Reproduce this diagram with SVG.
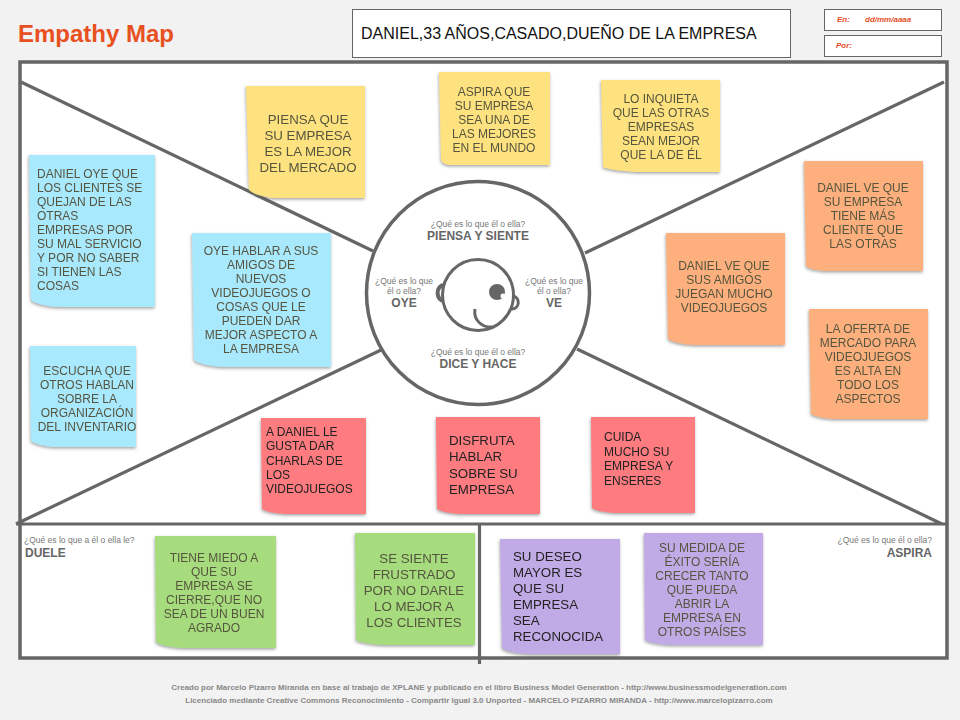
<svg xmlns="http://www.w3.org/2000/svg" width="960" height="720" viewBox="0 0 960 720">
<style>
text{font-family:"Liberation Sans",Arial,sans-serif}
.line{fill:none;stroke:#666;stroke-width:3.2}
.box{fill:#fff;stroke:#666;stroke-width:1}
.n{font-size:12px;fill:#55553f;text-anchor:middle}
.b{font-size:13.300px}
.d{fill:#222}
.l{text-anchor:start}
.q{font-size:8.500px;fill:#777;text-anchor:middle}
.h{font-size:12px;font-weight:bold;fill:#666;text-anchor:middle}
.y{fill:#fee27f}.c{fill:#a9e9fe}.o{fill:#fdb07d}.r{fill:#fe7b7f}.g{fill:#a6dc7d}.p{fill:#c0abe6}
.note{filter:url(#sh)}
.f{font-size:8px;font-weight:bold;fill:#888;text-anchor:middle}
.m{font-size:8px;font-style:italic;font-weight:bold;fill:#e8502a}
</style>
<defs><filter id="sh" x="-10%" y="-10%" width="120%" height="120%"><feDropShadow dx="-0.500" dy="1.500" stdDeviation="1.500" flood-color="#555" flood-opacity=".55"/></filter></defs>
<rect width="960" height="720" fill="#f2f2f2"/>
<text x="18" y="42" font-size="24" font-weight="bold" fill="#e8501f">Empathy Map</text>
<g id="persona"><rect class="box" x="352.500" y="9.500" width="438" height="48"/><text x="361" y="39" font-size="16" fill="#111">DANIEL,33 AÑOS,CASADO,DUEÑO DE LA EMPRESA</text></g>
<g id="fecha"><rect class="box" x="824.500" y="9.500" width="117" height="21"/><text class="m" x="837" y="22">En:</text><text class="m" x="865" y="22">dd/mm/aaaa</text></g>
<g id="autor"><rect class="box" x="824.500" y="35.500" width="117" height="21"/><text class="m" x="836" y="48">Por:</text></g>
<rect x="20" y="62" width="927" height="596" fill="#fff" stroke="#666" stroke-width="3.500"/>
<g id="connectors">
<path class="line" d="M21 82L373 251M944 82L585 253M16 524L381 350M942 524L577 349M16 524H946M479.500 524V664"/>
</g>
<g id="centro">
<circle cx="478" cy="293" r="111.500" fill="#fff" stroke="#666" stroke-width="3.500"/>
<text class="q" x="478" y="227">¿Qué es lo que él o ella?</text><text class="h" x="478" y="240">PIENSA Y SIENTE</text>
<text class="q" x="404" y="284">¿Qué es lo que</text><text class="q" x="404" y="294">él o ella?</text><text class="h" x="404" y="307">OYE</text>
<text class="q" x="554" y="284">¿Qué es lo que</text><text class="q" x="554" y="294">él o ella?</text><text class="h" x="554" y="307">VE</text>
<text class="q" x="478" y="355">¿Qué es lo que él o ella?</text><text class="h" x="478" y="368">DICE Y HACE</text>
<g id="cara" fill="none" stroke="#666" stroke-width="3">
<circle cx="478" cy="295" r="35.500"/>
<path d="M444 285a6 7.500 0 0 0 0 16" stroke-width="4"/>
<path d="M513 296a6 6.500 0 0 1 -1.500 13"/>
<path d="M475 309c-2 11 7 19 18 18"/>
<circle cx="497" cy="292" r="8" fill="#666" stroke="none"/>
<circle cx="503" cy="296" r="2.500" fill="#fff" stroke="none"/>
</g>
</g>
<g id="n1" class="note"><path class="y" d="M246 86H365V198H275Q255 196 249 190Z"/><text class="n b"><tspan x="308" y="124">PIENSA QUE</tspan><tspan x="308" y="140">SU EMPRESA</tspan><tspan x="308" y="156">ES LA MEJOR</tspan><tspan x="308" y="172">DEL MERCADO</tspan></text></g>
<g id="n2" class="note"><path class="y" d="M439 72H550V165H450Q441 164 441 159Z"/><text class="n"><tspan x="494" y="96">ASPIRA QUE</tspan><tspan x="494" y="110">SU EMPRESA</tspan><tspan x="494" y="124">SEA UNA DE</tspan><tspan x="494" y="138">LAS MEJORES</tspan><tspan x="494" y="152">EN EL MUNDO</tspan></text></g>
<g id="n3" class="note"><path class="y" d="M601 80H720V172H640Q612 171 603 167Z"/><text class="n"><tspan x="661" y="103">LO INQUIETA</tspan><tspan x="661" y="117">QUE LAS OTRAS</tspan><tspan x="661" y="131">EMPRESAS</tspan><tspan x="661" y="145">SEAN MEJOR</tspan><tspan x="661" y="159">QUE LA DE ÉL</tspan></text></g>
<g id="n4" class="note"><path class="c" d="M29 155H155V307H60Q38 306 31 300Z"/><text class="n l"><tspan x="37" y="178">DANIEL OYE QUE</tspan><tspan x="37" y="192">LOS CLIENTES SE</tspan><tspan x="37" y="206">QUEJAN  DE LAS</tspan><tspan x="37" y="220">OTRAS</tspan><tspan x="37" y="234">EMPRESAS POR</tspan><tspan x="37" y="248">SU MAL SERVICIO</tspan><tspan x="37" y="262">Y POR NO SABER</tspan><tspan x="37" y="276">SI TIENEN LAS</tspan><tspan x="37" y="290">COSAS</tspan></text></g>
<g id="n5" class="note"><path class="c" d="M192 233H331V367H225Q202 366 194 360Z"/><text class="n"><tspan x="261" y="255">OYE HABLAR A SUS</tspan><tspan x="261" y="269">AMIGOS DE</tspan><tspan x="261" y="283">NUEVOS</tspan><tspan x="261" y="297">VIDEOJUEGOS O</tspan><tspan x="261" y="311">COSAS QUE LE</tspan><tspan x="261" y="325">PUEDEN DAR</tspan><tspan x="261" y="339">MEJOR ASPECTO A</tspan><tspan x="261" y="353">LA EMPRESA</tspan></text></g>
<g id="n6" class="note"><path class="c" d="M30 346H136V447H55Q38 446 31 441Z"/><text class="n"><tspan x="87" y="375">ESCUCHA QUE</tspan><tspan x="87" y="389">OTROS HABLAN</tspan><tspan x="87" y="403">SOBRE LA</tspan><tspan x="87" y="417">ORGANIZACIÓN</tspan><tspan x="87" y="431">DEL INVENTARIO</tspan></text></g>
<g id="n7" class="note"><path class="o" d="M804 161H923V271H825Q810 270 806 266Z"/><text class="n"><tspan x="863" y="192">DANIEL VE QUE</tspan><tspan x="863" y="206">SU EMPRESA</tspan><tspan x="863" y="220">TIENE MÁS</tspan><tspan x="863" y="234">CLIENTE QUE</tspan><tspan x="863" y="248">LAS OTRAS</tspan></text></g>
<g id="n8" class="note"><path class="o" d="M666 233H785V345H695Q675 344 668 339Z"/><text class="n"><tspan x="724" y="270">DANIEL VE QUE</tspan><tspan x="724" y="284">SUS AMIGOS</tspan><tspan x="724" y="298">JUEGAN MUCHO</tspan><tspan x="724" y="312">VIDEOJUEGOS</tspan></text></g>
<g id="n9" class="note"><path class="o" d="M809 309H928V419H835Q817 418 811 414Z"/><text class="n"><tspan x="868" y="333">LA OFERTA DE</tspan><tspan x="868" y="347">MERCADO PARA</tspan><tspan x="868" y="361">VIDEOJUEGOS</tspan><tspan x="868" y="375">ES ALTA EN</tspan><tspan x="868" y="389">TODO LOS</tspan><tspan x="868" y="403">ASPECTOS</tspan></text></g>
<g id="n10" class="note"><path class="r" d="M261 418H366V514H285Q268 513 262 509Z"/><text class="n d l"><tspan x="266" y="436">A DANIEL LE</tspan><tspan x="266" y="450">GUSTA DAR</tspan><tspan x="266" y="465">CHARLAS DE</tspan><tspan x="266" y="479">LOS</tspan><tspan x="266" y="493">VIDEOJUEGOS</tspan></text></g>
<g id="n11" class="note"><path class="r" d="M436 417H540V514H460Q443 513 437 509Z"/><text class="n d l b"><tspan x="449" y="445">DISFRUTA</tspan><tspan x="449" y="461">HABLAR</tspan><tspan x="449" y="478">SOBRE SU</tspan><tspan x="449" y="494">EMPRESA</tspan></text></g>
<g id="n12" class="note"><path class="r" d="M591 417H695V513H615Q598 512 592 508Z"/><text class="n d l"><tspan x="604" y="441">CUIDA</tspan><tspan x="604" y="456">MUCHO SU</tspan><tspan x="604" y="470">EMPRESA Y</tspan><tspan x="604" y="485">ENSERES</tspan></text></g>
<g id="cuadro-duele"><text class="q" style="text-anchor:start" x="24" y="543">¿Qué es lo que a él o ella le?</text><text class="h" style="text-anchor:start" x="25" y="557">DUELE</text></g>
<g id="cuadro-aspira"><text class="q" style="text-anchor:end" x="932" y="543">¿Qué es lo que él o ella?</text><text class="h" style="text-anchor:end" x="932" y="557">ASPIRA</text></g>
<g id="n13" class="note"><path class="g" d="M155 536H276V648H185Q163 647 156 642Z"/><text class="n"><tspan x="214" y="562">TIENE MIEDO  A</tspan><tspan x="214" y="576">QUE SU</tspan><tspan x="214" y="590">EMPRESA SE</tspan><tspan x="214" y="604">CIERRE,QUE NO</tspan><tspan x="214" y="618">SEA DE UN BUEN</tspan><tspan x="214" y="632">AGRADO</tspan></text></g>
<g id="n14" class="note"><path class="g" d="M355 533H475V645H385Q363 644 356 640Z"/><text class="n b"><tspan x="414" y="563">SE SIENTE</tspan><tspan x="414" y="579">FRUSTRADO</tspan><tspan x="414" y="595">POR NO DARLE</tspan><tspan x="414" y="611">LO MEJOR A</tspan><tspan x="414" y="627">LOS CLIENTES</tspan></text></g>
<g id="n15" class="note"><path class="p" d="M500 539H620V654H530Q508 653 502 648Z"/><text class="n d l b"><tspan x="513" y="561">SU DESEO</tspan><tspan x="513" y="577">MAYOR ES</tspan><tspan x="513" y="593">QUE SU</tspan><tspan x="513" y="609">EMPRESA</tspan><tspan x="513" y="625">SEA</tspan><tspan x="513" y="641">RECONOCIDA</tspan></text></g>
<g id="n16" class="note"><path class="p" d="M644 533H763V645H670Q652 644 645 640Z"/><text class="n"><tspan x="702" y="552">SU MEDIDA DE</tspan><tspan x="702" y="566">ÉXITO SERÍA</tspan><tspan x="702" y="580">CRECER TANTO</tspan><tspan x="702" y="594">QUE PUEDA</tspan><tspan x="702" y="608">ABRIR LA</tspan><tspan x="702" y="622">EMPRESA EN</tspan><tspan x="702" y="636">OTROS PAÍSES</tspan></text></g>
<g id="creditos"><text class="f" x="479" y="690">Creado por Marcelo Pizarro Miranda en base al trabajo de XPLANE y publicado en el libro Business Model Generation - http://www.businessmodelgeneration.com</text><text class="f" x="479" y="703">Licenciado mediante Creative Commons Reconocimiento - Compartir Igual 3.0 Unported - MARCELO PIZARRO MIRANDA - http://www.marcelopizarro.com</text></g>
</svg>
